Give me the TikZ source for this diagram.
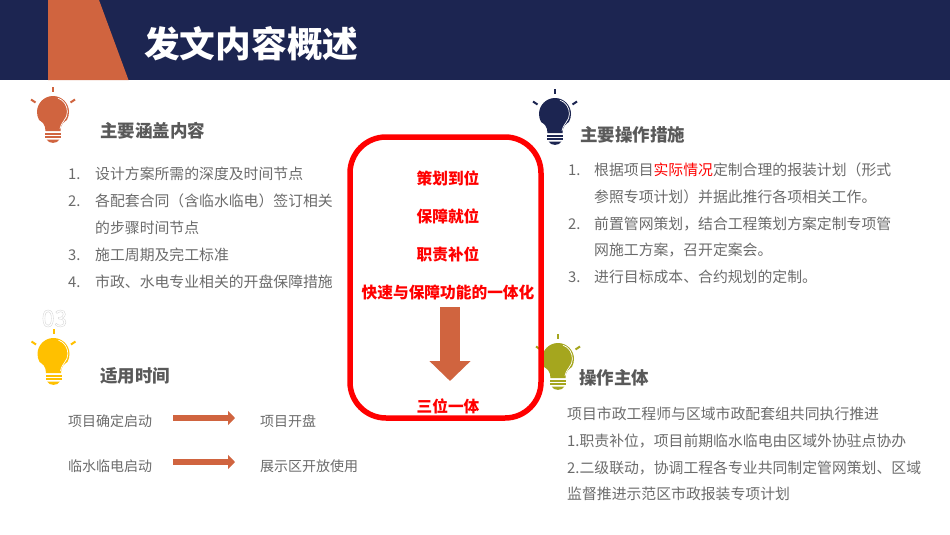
\documentclass[tikz,border=0pt]{standalone}
\usepackage{fontspec}
\setmainfont{Noto Sans CJK SC}
\usetikzlibrary{arrows.meta,positioning}
\definecolor{navy}{HTML}{1C2551}
\definecolor{rust}{HTML}{D0643F}
\definecolor{amber}{HTML}{FFC000}
\definecolor{olive}{HTML}{A5A61E}
\definecolor{headgray}{HTML}{595959}
\definecolor{bodygray}{HTML}{6B6B6B}
\tikzset{
  heading/.style={anchor=west,inner sep=0pt,text=headgray,font=\fontsize{17.5}{20}\selectfont\bfseries},
  body/.style={anchor=west,inner sep=0pt,text=bodygray,font=\fontsize{14.85}{18}\selectfont},
  small/.style={anchor=west,inner sep=0pt,text=bodygray,font=\fontsize{14}{18}\selectfont},
  redtext/.style={inner sep=0pt,text=red,font=\fontsize{15.7}{18}\selectfont\bfseries},
  thinarrow/.style={draw=rust,line width=6.5pt,-{Triangle[length=7pt,width=14pt]}},
  bigarrow/.style={draw=rust,line width=20pt,-{Triangle[length=20pt,width=40pt]}}
}
% lamp: x, y of the top of the glass, colour
\newcommand{\lamp}[3]{
  \begin{scope}[shift={(#1,#2)}]
    \fill[#3] (-7.5,35) -- (7.5,35) .. controls (7.5,28) and (11,26) .. (13.9,24)
      .. controls (15.2,21.6) and (16,19) .. (16,16)
      .. controls (16,7.2) and (8.8,0) .. (0,0) .. controls (-8.8,0) and (-16,7.2) .. (-16,16)
      .. controls (-16,19) and (-15.2,21.6) .. (-13.9,24)
      .. controls (-11,26) and (-7.5,28) .. (-7.5,35) -- cycle;
    \draw[white,line width=.7pt] (5,2.2) .. controls (11,4) and (14.4,10) .. (14.4,16)
      .. controls (14.4,23) and (8.5,25) .. (7,33);
    \fill[#3] (-8,36.5) rectangle (8,38.5);
    \fill[#3] (-8,40) rectangle (8,42);
    \fill[#3] (-6.5,43.5) -- (6.5,43.5) .. controls (4,48) and (-4,48) .. (-6.5,43.5) -- cycle;
    \draw[#3,line width=2pt] (0,-9) -- (0,-4.5);
    \draw[#3,line width=2pt] (-22,3.5) -- (-17.5,6.5);
    \draw[#3,line width=2pt] (22,3.5) -- (17.5,6.5);
  \end{scope}
}
\begin{document}
\begin{tikzpicture}[x=1pt,y=-1pt]
  \useasboundingbox (0,0) rectangle (950,535);

  % top band
  \fill[navy] (0,0) rectangle (950,80);
  \fill[rust] (48,0) -- (99,0) -- (128.5,80) -- (48,80) -- cycle;
  \node[anchor=west,inner sep=0pt,text=white,font=\fontsize{35.7}{40}\selectfont\bfseries] (title) at (144,44) {发文内容概述};

  \lamp{53}{96}{rust}
  \lamp{555}{98}{navy}
  \lamp{53.5}{338}{amber}
  \lamp{558}{343}{olive}

  \node[inner sep=0pt,font=\fontsize{23}{23}\selectfont] (num) at (54.5,318.5)
    {\special{pdf:code q 1 Tr 0.35 w 0.82 0.82 0.82 RG}03\special{pdf:code 0 Tr Q}};

  % left top
  \node[heading] (cover) at (100,131) {主要涵盖内容};
  \node[body] (c1) at (68,174) {1.};
  \node[body] (c1t) at (95,174) {设计方案所需的深度及时间节点};
  \node[body] (c2) at (68,201) {2.};
  \node[body] (c2t) at (95,201) {各配套合同（含临水临电）签订相关};
  \node[body] (c2u) at (95,228) {的步骤时间节点};
  \node[body] (c3) at (68,255) {3.};
  \node[body] (c3t) at (95,255) {施工周期及完工标准};
  \node[body] (c4) at (68,282) {4.};
  \node[body] (c4t) at (95,282) {市政、水电专业相关的开盘保障措施};

  % left bottom
  \node[heading] (period) at (100,376) {适用时间};
  \node[small] (start) at (68,421) {项目确定启动};
  \node[small] (open) at (260,421) {项目开盘};
  \node[small] (power) at (68,466) {临水临电启动};
  \node[small] (show) at (260,466) {展示区开放使用};
  \coordinate (a1) at (173,418);
  \coordinate (b1) at (235,418);
  \coordinate (a2) at (173,462);
  \coordinate (b2) at (235,462);
  \draw[thinarrow] (a1) -- (b1);
  \draw[thinarrow] (a2) -- (b2);

  % middle
  \draw[red,line width=5.5pt,rounded corners=36pt] (350,137) rectangle (541,418);
  \node[redtext] (r1) at (448,178) {策划到位};
  \node[redtext] (r2) at (448,216) {保障就位};
  \node[redtext] (r3) at (448,254) {职责补位};
  \node[redtext] (r4) at (448,292) {快速与保障功能的一体化};
  \node[redtext] (r5) at (448,406) {三位一体};
  \coordinate (top) at (450,307);
  \coordinate (tip) at (450,381);
  \draw[bigarrow] (top) -- (tip);

  % right top
  \node[heading] (measures) at (580,135) {主要操作措施};
  \node[body] (m1) at (568,170) {1.};
  \node[body] (m1t) at (594,170) {根据项目\textcolor{red}{实际情况}定制合理的报装计划（形式};
  \node[body] (m1u) at (594,197) {参照专项计划）并据此推行各项相关工作。};
  \node[body] (m2) at (568,224) {2.};
  \node[body] (m2t) at (594,224) {前置管网策划，结合工程策划方案定制专项管};
  \node[body] (m2u) at (594,250) {网施工方案，召开定案会。};
  \node[body] (m3) at (568,277) {3.};
  \node[body] (m3t) at (594,277) {进行目标成本、合约规划的定制。};

  % right bottom
  \node[heading] (owner) at (579,378) {操作主体};
  \node[body] (o1) at (567,414) {项目市政工程师与区域市政配套组共同执行推进};
  \node[body] (o2) at (567,441) {1.职责补位，项目前期临水临电由区域外协驻点协办};
  \node[body] (o3) at (567,468) {2.二级联动，协调工程各专业共同制定管网策划、区域};
  \node[body] (o4) at (567,494) {监督推进示范区市政报装专项计划};

\end{tikzpicture}
\end{document}
